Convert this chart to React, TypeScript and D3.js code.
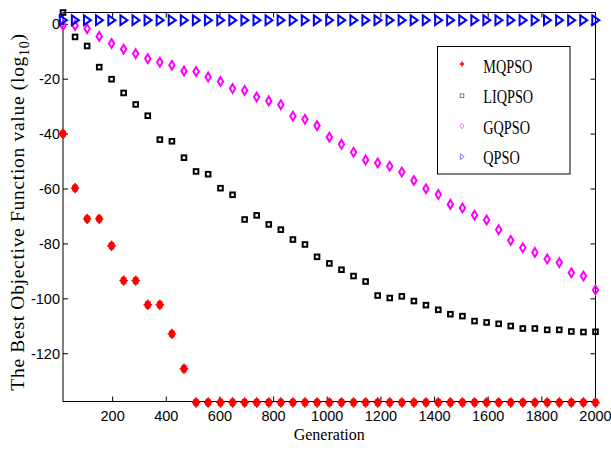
import React from "react";
import * as d3 from "d3";

const generations = [15, 60, 105, 150, 196, 241, 286, 331, 376, 421, 466, 511, 556, 602, 647, 692, 737, 782, 827, 872, 917, 962, 1008, 1053, 1098, 1143, 1188, 1233, 1278, 1323, 1368, 1414, 1459, 1504, 1549, 1594, 1639, 1684, 1729, 1774, 1820, 1865, 1910, 1955, 2000];

const mqpso = [-39.5, -59.3, -70.5, -70.5, -80.3, -93.0, -93.0, -101.8, -101.8, -112.4, -125.1,
  -137.4, -137.4, -137.4, -137.4, -137.4, -137.4, -137.4, -137.4, -137.4, -137.4, -137.4, -137.4,
  -137.4, -137.4, -137.4, -137.4, -137.4, -137.4, -137.4, -137.4, -137.4, -137.4, -137.4, -137.4,
  -137.4, -137.4, -137.4, -137.4, -137.4, -137.4, -137.4, -137.4, -137.4, -137.4];

const liqpso = [4.3, -4.6, -7.9, -15.6, -20.0, -25.0, -29.2, -33.3, -42.0, -42.6, -48.6, -53.6, -54.6, -59.7, -62.1,
  -71.1, -69.6, -72.9, -74.8, -78.4, -80.2, -84.7, -87.1, -89.4, -91.7, -93.7, -98.8, -99.7, -99.1, -100.8,
  -102.3, -104.0, -105.6, -106.3, -108.1, -108.6, -109.1, -109.9, -110.8, -110.8, -111.3, -111.3, -111.9, -112.1, -112.0];

const gqpso = [-0.4, -0.4, -1.6, -4.4, -7.0, -9.1, -10.7, -12.5, -13.8, -14.9, -17.0, -17.2, -19.2, -20.8, -23.4,
  -24.1, -26.5, -27.9, -29.3, -33.5, -34.6, -36.9, -41.1, -43.7, -46.6, -49.4, -50.5, -51.7, -53.8, -56.9,
  -59.9, -62.0, -65.6, -66.9, -69.5, -71.3, -74.8, -78.7, -81.4, -83.1, -85.5, -86.8, -90.5, -91.7, -96.8];

const qpso = [1.5, 1.5, 1.5, 1.5, 1.5, 1.5, 1.5, 1.5, 1.5, 1.5, 1.5, 1.5, 1.5, 1.5, 1.5,
  1.5, 1.5, 1.5, 1.5, 1.5, 1.5, 1.5, 1.5, 1.5, 1.5, 1.5, 1.5, 1.5, 1.5, 1.5,
  1.5, 1.5, 1.5, 1.5, 1.5, 1.5, 1.5, 1.5, 1.5, 1.5, 1.5, 1.5, 1.5, 1.5, 1.5];

const xTicks = [200, 400, 600, 800, 1000, 1200, 1400, 1600, 1800, 2000];
const yTicks = [0, -20, -40, -60, -80, -100, -120];
const seriesNames = ["MQPSO", "LIQPSO", "GQPSO", "QPSO"];

const W = 611, H = 450;
const L = 63, R = 595.5, T = 12.5, B = 401.5;

const allY = [...mqpso, ...liqpso, ...gqpso, ...qpso];
const x = d3.scaleLinear().domain(d3.extent(generations) as [number, number]).range([L, R]);
const y = d3.scaleLinear().domain(d3.extent(allY) as [number, number]).range([B, T]);

function Plus({ cx, cy }: { cx: number; cy: number }) {
  return (
    <g transform={`translate(${cx},${cy})`}>
      <ellipse rx={3.3} ry={4.2} fill="#ff0000" />
      <path d="M-4.3,0H4.3M0,-5.2V5.2" stroke="#ff0000" strokeWidth={1.4} />
    </g>
  );
}
function Square({ cx, cy, stroke = "#000", sw = 2, s = 4.6 }: any) {
  return <rect x={cx - s / 2} y={cy - s / 2} width={s} height={s} fill="none" stroke={stroke} strokeWidth={sw} />;
}
function Diamond({ cx, cy, stroke = "#ff00ff", sw = 2, w = 2.7, h = 4.4 }: any) {
  return <path d={`M${cx},${cy - h}L${cx + w},${cy}L${cx},${cy + h}L${cx - w},${cy}Z`} fill="none" stroke={stroke} strokeWidth={sw} />;
}
function Tri({ cx, cy, stroke = "#0000ff", sw = 2, w = 3.2, h = 4.8 }: any) {
  return <path d={`M${cx - w},${cy - h}L${cx + w + 0.6},${cy}L${cx - w},${cy + h}Z`} fill="none" stroke={stroke} strokeWidth={sw} strokeLinejoin="miter" />;
}

export default function App() {
  const legendRows = [72.5, 103, 133.5, 164];
  const legendMarkY = [64, 95.7, 126, 156.7];
  return (
    <svg width={W} height={H} style={{ position: "absolute", left: 0, top: 0, background: "#fff" }}>
      <rect x={0} y={0} width={W} height={H} fill="#fff" />
      {/* axes box */}
      <rect x={L} y={T} width={R - L} height={B - T} fill="none" stroke="#000" strokeWidth={1} />
      {xTicks.map((t) => (
        <g key={"x" + t}>
          <line x1={x(t)} x2={x(t)} y1={B} y2={B - 5} stroke="#000" />
          <line x1={x(t)} x2={x(t)} y1={T} y2={T + 5} stroke="#000" />
          <text x={x(t)} y={421} textAnchor="middle" fontFamily="Liberation Sans, Arial, sans-serif" fontSize={14.5} fill="#000">{t}</text>
        </g>
      ))}
      {yTicks.map((t) => (
        <g key={"y" + t}>
          <line x1={L} x2={L + 5} y1={y(t)} y2={y(t)} stroke="#000" />
          <line x1={R} x2={R - 5} y1={y(t)} y2={y(t)} stroke="#000" />
          <text x={60} y={y(t) + 5} textAnchor="end" fontFamily="Liberation Sans, Arial, sans-serif" fontSize={14.5} fill="#000">{t}</text>
        </g>
      ))}
      {/* series */}
      <g>
        {mqpso.map((v, i) => <Plus key={"m" + i} cx={x(generations[i])} cy={y(v) + 1} />)}
      </g>
      <g>
        {liqpso.map((v, i) => <Square key={"l" + i} cx={x(generations[i])} cy={y(v)} />)}
      </g>
      <g>
        {gqpso.map((v, i) => <Diamond key={"g" + i} cx={x(generations[i])} cy={y(v)} />)}
      </g>
      <g>
        {qpso.map((v, i) => <Tri key={"q" + i} cx={x(generations[i])} cy={y(v)} />)}
      </g>
      {/* labels */}
      <text x={(L + R) / 2} y={440} textAnchor="middle" fontFamily="Liberation Serif, Times New Roman, serif" fontSize={16} fill="#000">Generation</text>
      <text transform="translate(23.5,212) rotate(-90)" textAnchor="middle" fontFamily="Liberation Serif, Times New Roman, serif" fontSize={19.5} letterSpacing={0.7} fill="#000">
        The Best Objective Function value (log<tspan fontSize={14} dy={5}>10</tspan><tspan dy={-5}>)</tspan>
      </text>
      {/* legend */}
      <rect x={437.5} y={46.5} width={132.5} height={127.5} fill="#fff" stroke="#000" strokeWidth={1} />
      {seriesNames.map((n, i) => (
        <g key={n}>
          {i === 0 && <path d={`M${462 - 2.2},${legendMarkY[i]}H${462 + 2.2}M462,${legendMarkY[i] - 2.6}V${legendMarkY[i] + 2.6}`} stroke="#ff0000" strokeWidth={1.5} />}
          {i === 1 && <Square cx={462} cy={legendMarkY[i]} stroke="#808080" sw={1} s={3.6} />}
          {i === 2 && <Diamond cx={462} cy={legendMarkY[i]} stroke="#ff80ff" sw={1} w={1.8} h={3} />}
          {i === 3 && <Tri cx={462} cy={legendMarkY[i]} stroke="#8080ff" sw={1} w={1.6} h={3} />}
          <text transform={`translate(483.3,${legendRows[i]}) scale(0.75,1)`} fontFamily="Liberation Serif, Times New Roman, serif" fontSize={19} fill="#000">{n}</text>
        </g>
      ))}
    </svg>
  );
}
